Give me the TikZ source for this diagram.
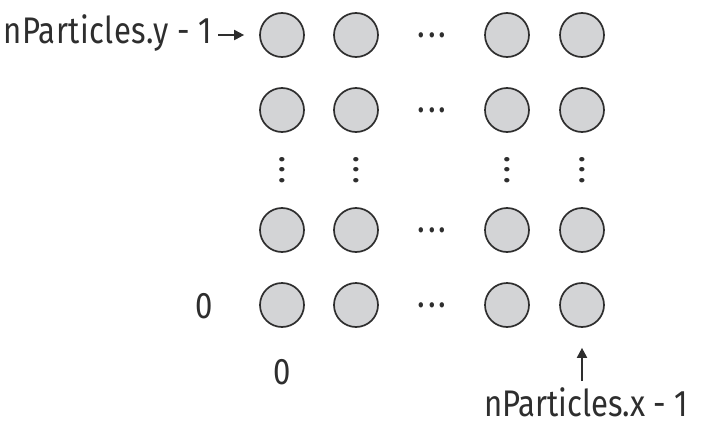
\documentclass[tikz,border=0pt]{standalone}
\usepackage{fontspec}
\setmainfont{Fira Sans}[FakeStretch=0.84]
\usetikzlibrary{positioning}
\usetikzlibrary{arrows.meta}
\definecolor{ptfill}{HTML}{D3D4D6}
\definecolor{ptline}{HTML}{2E2E2E}
\tikzset{
    particle/.style = {circle, line width=1.7pt, draw=ptline, fill=ptfill, minimum size=44pt, inner sep=0pt},
    lbl/.style = {text=ptline, font=\fontsize{37}{40}\selectfont, inner sep=0pt},
    hdots/.style = {text=ptline, font=\fontsize{38}{38}\selectfont, inner sep=0pt},
    vdots/.style = {hdots, rotate=90},
    edgen/.style = {-{Triangle[length=10pt,width=10pt]}, line width=2pt, draw=ptline},
}
\begin{document}
\begin{tikzpicture}[x=1pt,y=-1pt]
\useasboundingbox (0,0) rectangle (702,434);
%
\node[particle] at (282, 35) (c14) {};
\node[particle] at (356, 35) (c24) {};
\node[particle] at (507, 35) (c34) {};
\node[particle] at (582, 35) (c44) {};
\node[particle] at (282,110) (c13) {};
\node[particle] at (356,110) (c23) {};
\node[particle] at (507,110) (c33) {};
\node[particle] at (582,110) (c43) {};
\node[particle] at (282,230) (c12) {};
\node[particle] at (356,230) (c22) {};
\node[particle] at (507,230) (c32) {};
\node[particle] at (582,230) (c42) {};
\node[particle] at (282,305) (c11) {};
\node[particle] at (356,305) (c21) {};
\node[particle] at (507,305) (c31) {};
\node[particle] at (582,305) (c41) {};
%
\node[hdots] at (432, 35) (h4) {.\hspace{3pt}.\hspace{3pt}.};
\node[hdots] at (432,110) (h3) {.\hspace{3pt}.\hspace{3pt}.};
\node[hdots] at (432,230) (h2) {.\hspace{3pt}.\hspace{3pt}.};
\node[hdots] at (432,305) (h1) {.\hspace{3pt}.\hspace{3pt}.};
\node[vdots] at (282,170) (v1) {.\hspace{3pt}.\hspace{3pt}.};
\node[vdots] at (356,170) (v2) {.\hspace{3pt}.\hspace{3pt}.};
\node[vdots] at (507,170) (v3) {.\hspace{3pt}.\hspace{3pt}.};
\node[vdots] at (582,170) (v4) {.\hspace{3pt}.\hspace{3pt}.};
%
\node[lbl, anchor=base east] at (212, 43) (ylab) {\addfontfeature{LetterSpace=1.2}nParticles.y - 1};
\node[lbl, anchor=base] at (586,416) (xlab) {nParticles.x - 1};
\node[lbl] at (204,306) (zy) {0};
\node[lbl] at (282,372) (zx) {0};
\coordinate (ytail) at (218, 35);
\coordinate (xtail) at (582,381);
%
\draw[edgen, shorten >=15pt] (ytail) -- (c14);
\draw[edgen, shorten >=20pt] (xtail) -- (c41);
\end{tikzpicture}
\end{document}
